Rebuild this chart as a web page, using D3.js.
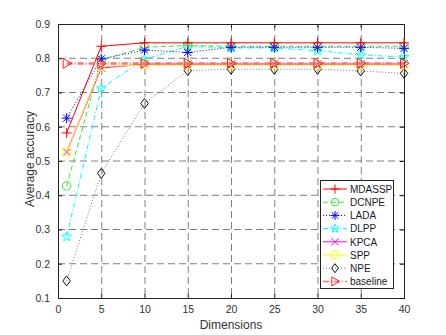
<!DOCTYPE html>
<html><head><meta charset="utf-8">
<script src="https://cdn.jsdelivr.net/npm/d3@7"></script>
<style>body{margin:0;background:#fff;} svg{display:block;font-family:Arial,"Liberation Sans",sans-serif;}</style>
</head><body>
<svg id="c" width="446" height="335"></svg>
<script>
const dims = [1,5,10,15,20,25,30,35,40];
const xTicks = [0,5,10,15,20,25,30,35,40];
const yTicks = [0.1,0.2,0.3,0.4,0.5,0.6,0.7,0.8,0.9];
const mdassp   = [0.582,0.835,0.845,0.845,0.845,0.845,0.845,0.845,0.845];
const dcnpe    = [0.427,0.795,0.832,0.837,0.835,0.835,0.835,0.835,0.835];
const lada     = [0.625,0.798,0.824,0.817,0.832,0.832,0.832,0.832,0.829];
const dlpp     = [0.279,0.712,0.797,0.835,0.830,0.830,0.822,0.810,0.803];
const kpca     = [0.526,0.772,0.783,0.783,0.783,0.783,0.783,0.783,0.783];
const spp      = [0.526,0.776,0.780,0.780,0.780,0.780,0.780,0.780,0.780];
const npe      = [0.150,0.464,0.668,0.764,0.768,0.768,0.768,0.763,0.756];
const baseline = [0.785,0.785,0.785,0.785,0.785,0.785,0.785,0.785,0.785];
const names = ["MDASSP","DCNPE","LADA","DLPP","KPCA","SPP","NPE","baseline"];
const seriesVals = [mdassp,dcnpe,lada,dlpp,kpca,spp,npe,baseline];

const styles = [
  {color:"#ff0000", dash:null, marker:"plus", w:1},
  {color:"#33ee33", dash:"5,3", marker:"circle", w:1},
  {color:"#0000ff", dash:"1,2", marker:"star6", w:1},
  {color:"#00ffff", dash:"5,2,1,2", marker:"penta", w:1},
  {color:"#ff00ff", dash:null, marker:"x", w:1.2},
  {color:"#ffff00", dash:null, marker:"square", w:1},
  {color:"#777777", dash:"1,2", marker:"diamond", w:1},
  {color:"#ff7070", dash:"6,2,1,2", marker:"tri", w:2.5}
];

const svg = d3.select("#c");
const L=58, R=404, T=24, B=298;
const x = d3.scaleLinear().domain([0,40]).range([L,R]);
const y = d3.scaleLinear().domain([0.1,0.9]).range([B,T]);

// grid
const g = svg.append("g");
g.selectAll(".vg").data(xTicks.slice(1,-1)).enter().append("line")
  .attr("x1",d=>x(d)+0.5).attr("x2",d=>x(d)+0.5).attr("y1",T).attr("y2",B)
  .attr("stroke","#808080").attr("stroke-dasharray","7,4").attr("stroke-width",1);
g.selectAll(".hg").data(yTicks.slice(1,-1)).enter().append("line")
  .attr("y1",d=>y(d)).attr("y2",d=>y(d)).attr("x1",L).attr("x2",R)
  .attr("stroke","#808080").attr("stroke-dasharray","7,4").attr("stroke-width",1);

// axes
const xa = svg.append("g").attr("transform",`translate(0,${B})`)
  .call(d3.axisBottom(x).tickValues(xTicks).tickFormat(d3.format("d")).tickSizeInner(-4).tickSizeOuter(0).tickPadding(8));
const xa2 = svg.append("g").attr("transform",`translate(0,${T})`)
  .call(d3.axisTop(x).tickValues(xTicks).tickFormat("").tickSizeInner(-4).tickSizeOuter(0));
const ya = svg.append("g").attr("transform",`translate(${L},0)`)
  .call(d3.axisLeft(y).tickValues(yTicks).tickFormat(d3.format(".1f")).tickSizeInner(-4).tickSizeOuter(0).tickPadding(8));
const ya2 = svg.append("g").attr("transform",`translate(${R},0)`)
  .call(d3.axisRight(y).tickValues(yTicks).tickFormat("").tickSizeInner(-4).tickSizeOuter(0));
[xa,xa2,ya,ya2].forEach(a=>{
  a.selectAll("path").remove();
  a.selectAll("line").attr("stroke","#222");
  a.selectAll("text").attr("fill","#333").style("font-size","10.5px").style("font-family","Arial,'Liberation Sans',sans-serif");
});
svg.append("rect").attr("x",L+0.5).attr("y",T+0.5).attr("width",R-L).attr("height",B-T)
  .attr("fill","none").attr("stroke","#222").attr("stroke-width",1);

svg.append("text").attr("x",(L+R)/2).attr("y",329).attr("text-anchor","middle")
  .attr("fill","#333").style("font-size","12px").text("Dimensions");
svg.append("text").attr("transform",`translate(34,${(T+B)/2 - 2}) rotate(-90)`).attr("text-anchor","middle")
  .attr("fill","#333").style("font-size","12px").text("Average accuracy");

function markerPath(type, r){
  const p = d3.path();
  if(type==="plus"){ p.moveTo(-r,0);p.lineTo(r,0);p.moveTo(0,-r);p.lineTo(0,r); }
  else if(type==="x"){ const a=r*0.8; p.moveTo(-a,-a);p.lineTo(a,a);p.moveTo(-a,a);p.lineTo(a,-a); }
  else if(type==="star6"){ p.moveTo(-r,0);p.lineTo(r,0);p.moveTo(0,-r);p.lineTo(0,r);
     const a=r*0.72; p.moveTo(-a,-a);p.lineTo(a,a);p.moveTo(-a,a);p.lineTo(a,-a); }
  else if(type==="circle"){ p.arc(0,0,r*0.85,0,2*Math.PI); }
  else if(type==="square"){ const a=r*0.75; p.rect(-a,-a,2*a,2*a); }
  else if(type==="diamond"){ p.moveTo(0,-r);p.lineTo(r*0.75,0);p.lineTo(0,r);p.lineTo(-r*0.75,0);p.closePath(); }
  else if(type==="tri"){ p.moveTo(-r*0.7,-r);p.lineTo(r,0);p.lineTo(-r*0.7,r);p.closePath(); }
  else if(type==="penta"){
    for(let i=0;i<10;i++){ const ang=-Math.PI/2+i*Math.PI/5; const rr=(i%2===0)?r:r*0.45;
      const px=rr*Math.cos(ang), py=rr*Math.sin(ang); if(i===0)p.moveTo(px,py); else p.lineTo(px,py);} p.closePath(); }
  return p.toString();
}

const line = d3.line().x((d,i)=>x(dims[i])).y(d=>y(d));
const order=[6,3,1,2,4,5,0,7];
order.forEach(k=>{
  const s=styles[k], vals=seriesVals[k];
  const gg=svg.append("g");
  gg.append("path").attr("d",line(vals)).attr("fill","none").attr("stroke",s.color)
    .attr("stroke-width",s.w).attr("stroke-dasharray",s.dash);
  gg.selectAll("path.m").data(vals).enter().append("path").attr("class","m")
    .attr("transform",(d,i)=>`translate(${x(dims[i])},${y(d)})`)
    .attr("d",markerPath(s.marker,5)).attr("fill","none")
    .attr("stroke",k===7?"#ff2020":(k===6?"#111":s.color)).attr("stroke-width",1);
});

// legend
const lx=320, ly=180, lw=73, lh=108;
const lg=svg.append("g");
lg.append("rect").attr("x",lx+0.5).attr("y",ly+0.5).attr("width",lw).attr("height",lh)
  .attr("fill","#fff").attr("stroke","#222");
names.forEach((n,i)=>{
  const s=styles[i], yy=ly+9+i*13.2;
  lg.append("line").attr("x1",lx+3).attr("x2",lx+27).attr("y1",yy).attr("y2",yy)
    .attr("stroke",s.color).attr("stroke-width",i===7?1.5:1).attr("stroke-dasharray",s.dash);
  lg.append("path").attr("transform",`translate(${lx+15},${yy})`).attr("d",markerPath(s.marker,4.5))
    .attr("fill","none").attr("stroke",i===7?"#ff2020":(i===6?"#111":s.color));
  lg.append("text").attr("x",lx+30).attr("y",yy+3.8).attr("fill","#1a1a2a").style("font-size","10px").text(n);
});
</script>
</body></html>
